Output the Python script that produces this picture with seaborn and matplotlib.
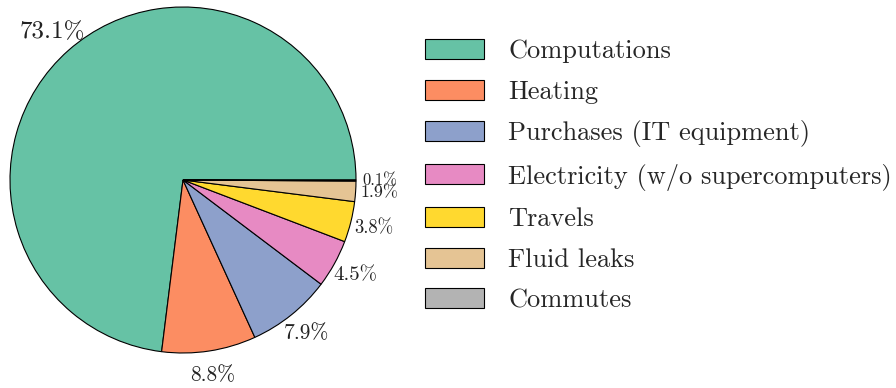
import matplotlib
matplotlib.use("Agg")
import matplotlib.pyplot as plt
import seaborn as sns

# Emission sources and their share of the total footprint (%)
sources = [
    "Computations",
    "Heating",
    "Purchases (IT equipment)",
    "Electricity (w/o supercomputers)",
    "Travels",
    "Fluid leaks",
    "Commutes",
]
shares = [73.1, 8.8, 7.9, 4.5, 3.8, 1.9, 0.1]

sns.set_style("white")
plt.rcParams["font.family"] = ["cmr10", "DejaVu Serif"]
plt.rcParams["mathtext.fontset"] = "cm"
plt.rcParams["axes.formatter.use_mathtext"] = True

# Set2 colours, skipping the lime green entry
set2 = sns.color_palette("Set2", 8)
colors = [set2[i] for i in (0, 1, 2, 3, 5, 6, 7)]

# smaller slices get smaller percentage labels
label_sizes = [18, 15.5, 15.5, 15, 13.5, 13, 12]

fig = plt.figure(figsize=(8.96, 3.88), dpi=100)
ax = fig.add_axes([10 / 896, 35 / 388, 346 / 896, 346 / 388])

wedges, texts = ax.pie(
    shares,
    colors=colors,
    startangle=0,
    counterclock=True,
    labels=[f"{v:.1f}%" for v in shares],
    labeldistance=1.14,
    wedgeprops=dict(edgecolor="black", linewidth=0.8),
)
for t, fs in zip(texts, label_sizes):
    t.set_fontsize(fs)
    t.set_color("#222222")
    t.set_horizontalalignment("center")
    t.set_verticalalignment("center")

ax.set_xlim(-1, 1)
ax.set_ylim(-1, 1)
ax.set_aspect("equal")

fig.legend(
    wedges,
    sources,
    loc="center left",
    bbox_to_anchor=(425 / 896, 1 - 175.7 / 388),
    frameon=False,
    fontsize=19,
    handlelength=2.25,
    handleheight=0.8,
    handletextpad=0.9,
    labelspacing=0.62,
    borderpad=0,
    borderaxespad=0,
)

fig.savefig("out.png", dpi=100)
